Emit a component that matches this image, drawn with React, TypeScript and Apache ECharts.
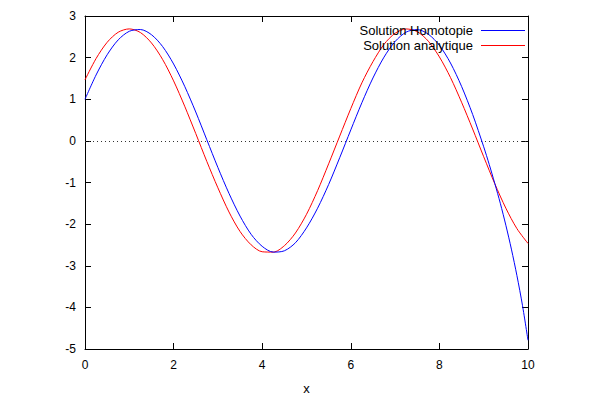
import React, { useEffect, useRef } from "react";
import * as echarts from "echarts";

const redX = [0, 0.25, 0.5, 0.75, 1, 1.25, 1.5, 1.75, 2, 2.25, 2.5, 2.75, 3, 3.25, 3.5, 3.75, 4, 4.25, 4.5, 4.75, 5, 5.25, 5.5, 5.75, 6, 6.25, 6.5, 6.75, 7, 7.25, 7.5, 7.75, 8, 8.25, 8.5, 8.75, 9, 9.25, 9.5, 9.75, 10];
const redY = [1.465, 1.978, 2.368, 2.61, 2.69, 2.603, 2.353, 1.959, 1.441, 0.833, 0.176, -0.494, -1.128, -1.708, -2.177, -2.497, -2.664, -2.672, -2.519, -2.213, -1.764, -1.197, -0.551, 0.115, 0.776, 1.394, 1.903, 2.319, 2.585, 2.689, 2.624, 2.395, 2.017, 1.522, 0.929, 0.286, -0.381, -1.029, -1.617, -2.108, -2.464];

const blueX = [0, 0.25, 0.5, 0.75, 1, 1.25, 1.5, 1.75, 2, 2.25, 2.5, 2.75, 3, 3.25, 3.5, 3.75, 4, 4.25, 4.5, 4.75, 5, 5.25, 5.5, 5.75, 6, 6.25, 6.5, 6.75, 7, 7.25, 7.5, 7.75, 8, 8.25, 8.5, 8.75, 9, 9.125, 9.25, 9.375, 9.5, 9.625, 9.75, 9.875, 10];
const blueY = [0.999, 1.583, 2.069, 2.427, 2.633, 2.675, 2.551, 2.269, 1.847, 1.311, 0.694, 0.026, -0.64, -1.261, -1.807, -2.245, -2.534, -2.672, -2.641, -2.448, -2.09, -1.618, -1.047, -0.403, 0.264, 0.917, 1.511, 2.012, 2.387, 2.613, 2.674, 2.562, 2.295, 1.871, 1.31, 0.636, -0.142, -0.568, -1.021, -1.5, -2.027, -2.6, -3.237, -3.95, -4.79];

const xTicks = { min: 0, max: 10, interval: 2 };
const yTicks = { min: -5, max: 3, interval: 1 };

const seriesNames = ["Solution Homotopie", "Solution analytique"];

const FONT = "'Liberation Sans', Arial, sans-serif";

export default function App() {
  const ref = useRef<HTMLDivElement>(null);
  useEffect(() => {
    if (!ref.current) return;
    const chart = echarts.init(ref.current, undefined, { renderer: "svg" });
    const tick = { show: true, inside: true, length: 6, lineStyle: { color: "#000", width: 1 } };
    const axisLine = { show: true, onZero: false, lineStyle: { color: "#000", width: 1 } };
    const legendBase = {
      orient: "vertical" as const,
      right: 75,
      padding: 0,
      align: "right" as const,
      icon: "rect",
      itemWidth: 44,
      itemHeight: 1,
      textStyle: { color: "#000", fontSize: 13, fontFamily: FONT, padding: [0, 3, 0, 0] },
    };
    chart.setOption({
      animation: false,
      backgroundColor: "#fff",
      grid: { left: 85, right: 72, top: 16, bottom: 50 },
      legend: [
        { ...legendBase, top: 24, data: [seriesNames[0]] },
        { ...legendBase, top: 39, data: [seriesNames[1]] },
      ],
      xAxis: [
        {
          type: "value",
          position: "bottom",
          min: xTicks.min,
          max: xTicks.max,
          interval: xTicks.interval,
          axisLine,
          axisTick: tick,
          splitLine: { show: false },
          axisLabel: { color: "#000", fontSize: 12, fontFamily: FONT, margin: 10 },
          name: "x",
          nameLocation: "middle",
          nameGap: 33,
          nameTextStyle: { color: "#000", fontSize: 13, fontFamily: FONT },
        },
        {
          type: "value",
          position: "top",
          min: xTicks.min,
          max: xTicks.max,
          interval: xTicks.interval,
          axisLine,
          axisTick: tick,
          splitLine: { show: false },
          axisLabel: { show: false },
        },
      ],
      yAxis: [
        {
          type: "value",
          position: "left",
          min: yTicks.min,
          max: yTicks.max,
          interval: yTicks.interval,
          axisLine,
          axisTick: tick,
          splitLine: { show: false },
          axisLabel: { color: "#000", fontSize: 12, fontFamily: FONT, margin: 9 },
        },
        {
          type: "value",
          position: "right",
          min: yTicks.min,
          max: yTicks.max,
          interval: yTicks.interval,
          axisLine,
          axisTick: tick,
          splitLine: { show: false },
          axisLabel: { show: false },
        },
      ],
      series: [
        {
          name: seriesNames[0],
          type: "line",
          xAxisIndex: 0,
          yAxisIndex: 0,
          data: blueX.map((x, i) => [x, blueY[i]]),
          smooth: 0.3,
          showSymbol: false,
          symbol: "none",
          itemStyle: { color: "#0000ff" },
          lineStyle: { color: "#0000ff", width: 1 },
          z: 3,
          markLine: {
            silent: true,
            symbol: "none",
            label: { show: false },
            lineStyle: { color: "#333", width: 1, type: [1, 3] },
            data: [{ yAxis: 0 }],
            z: 1,
          },
        },
        {
          name: seriesNames[1],
          type: "line",
          xAxisIndex: 0,
          yAxisIndex: 0,
          data: redX.map((x, i) => [x, redY[i]]),
          smooth: 0.3,
          showSymbol: false,
          symbol: "none",
          itemStyle: { color: "#ff0000" },
          lineStyle: { color: "#ff0000", width: 1 },
          z: 2,
        },
      ],
    });
    return () => chart.dispose();
  }, []);
  return (
    <div
      ref={ref}
      style={{ position: "fixed", left: 0, top: 0, width: 600, height: 400, background: "#fff" }}
    />
  );
}
